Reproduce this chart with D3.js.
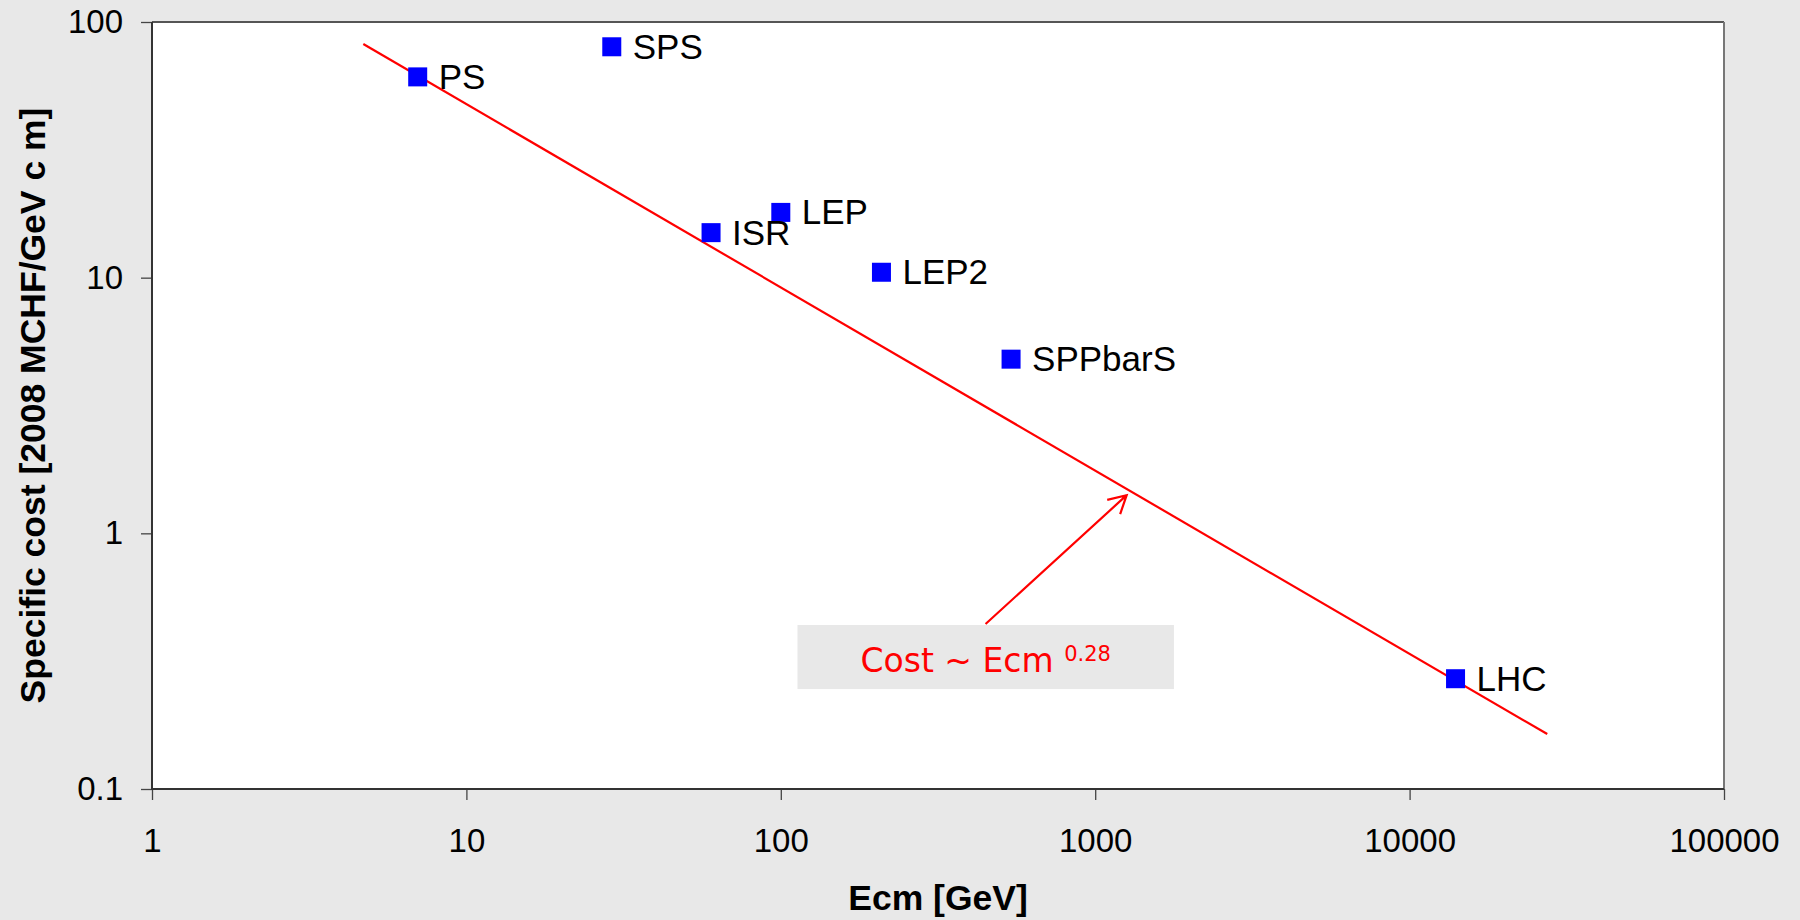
<!DOCTYPE html>
<html>
<head>
<meta charset="utf-8">
<script src="https://cdn.jsdelivr.net/npm/d3@7"></script>
<style>
  html, body { margin: 0; padding: 0; background: #e8e8e8; }
  svg { display: block; }
  text { font-family: "Liberation Sans", Arial, sans-serif; }
</style>
</head>
<body>
<div id="chart"></div>
<script>
/// Chart values
var machines = ["PS", "SPS", "ISR", "LEP", "LEP2", "SPPbarS", "LHC"];
var ecm      = [7, 29, 60, 100, 209, 540, 14000];       /// GeV
var cost     = [61, 80, 15, 18, 10.5, 4.8, 0.27];      /// 2008 MCHF/GeV c m

var fitEcm  = [4.7, 27400];   /// ends of the fitted power law
var fitCost = [82, 0.164];

var xTicks = [1, 10, 100, 1000, 10000, 100000];
var xTickLabels = ["1", "10", "100", "1000", "10000", "100000"];
var yTicks = [0.1, 1, 10, 100];
var yTickLabels = ["0.1", "1", "10", "100"];

var W = 1800, H = 920;
var m = {left: 152, right: 76, top: 22, bottom: 131};

var svg = d3.select("#chart").append("svg")
    .attr("width", W)
    .attr("height", H);

svg.append("rect")            /// grey page
    .attr("width", W).attr("height", H)
    .attr("fill", "#e8e8e8");

var x = d3.scaleLog().domain([1, 100000]).range([m.left, W - m.right]);
var y = d3.scaleLog().domain([0.1, 100]).range([H - m.bottom, m.top]);

/// plot area
svg.append("rect")
    .attr("x", x.range()[0]).attr("y", y.range()[1])
    .attr("width", x.range()[1] - x.range()[0])
    .attr("height", y.range()[0] - y.range()[1])
    .attr("fill", "#fff");

/// minor ticks 2..9 in every decade
function minors(dom){
    var out = [];
    for (var p = Math.log10(dom[0]); p < Math.log10(dom[1]); p++)
        for (var k = 2; k < 10; k++) out.push(k * Math.pow(10, p));
    return out;
}

var gx = svg.append("g").attr("transform", "translate(0," + y.range()[0] + ")");
gx.call(d3.axisBottom(x).tickValues(minors(x.domain())).tickSize(8).tickSizeOuter(0).tickFormat(""));
gx.call(d3.axisBottom(x).tickValues(xTicks).tickSize(11).tickSizeOuter(0).tickPadding(29)
        .tickFormat((d, i) => xTickLabels[i]));

var gy = svg.append("g").attr("transform", "translate(" + x.range()[0] + ",0)");
gy.call(d3.axisLeft(y).tickValues(minors(y.domain())).tickSize(8).tickSizeOuter(0).tickFormat(""));
gy.call(d3.axisLeft(y).tickValues(yTicks).tickSize(11).tickSizeOuter(0).tickPadding(18)
        .tickFormat((d, i) => yTickLabels[i]));

svg.selectAll(".tick line").attr("stroke", "#444").attr("stroke-width", 1.3);
svg.selectAll(".tick text")
    .attr("font-size", 33)
    .attr("font-family", "'Liberation Sans', Arial, sans-serif")
    .attr("fill", "#000");
svg.selectAll(".domain").remove();

/// frame: dark left/bottom/top, lighter right
var x0 = x.range()[0], x1 = x.range()[1], y0 = y.range()[0], y1 = y.range()[1];
svg.append("path").attr("d", "M" + x0 + "," + y1 + "H" + x1)
    .attr("stroke", "#555").attr("stroke-width", 2).attr("fill", "none");
svg.append("path").attr("d", "M" + x1 + "," + y1 + "V" + y0)
    .attr("stroke", "#777").attr("stroke-width", 2).attr("fill", "none");
svg.append("path").attr("d", "M" + x0 + "," + y1 + "V" + y0 + "H" + x1)
    .attr("stroke", "#333").attr("stroke-width", 2).attr("fill", "none");

/// fitted line
svg.append("path")
    .datum(d3.zip(fitEcm, fitCost))
    .attr("d", d3.line().x(d => x(d[0])).y(d => y(d[1])))
    .attr("stroke", "#ff0000").attr("stroke-width", 2.2).attr("fill", "none");

/// machines
var pts = d3.zip(ecm, cost, machines);
var side = 19;
svg.selectAll("rect.pt")
    .data(pts)
    .enter().append("rect")
    .attr("class", "pt")
    .attr("x", d => x(d[0]) - side / 2)
    .attr("y", d => y(d[1]) - side / 2)
    .attr("width", side).attr("height", side)
    .attr("fill", "#0000ff");

svg.selectAll("text.lab")
    .data(pts)
    .enter().append("text")
    .attr("class", "lab")
    .attr("x", d => x(d[0]) + 21)
    .attr("y", d => y(d[1]) + 12)
    .attr("font-size", 35)
    .attr("fill", "#000")
    .text(d => d[2]);

/// annotation box + arrow
var box = {x0: x(113), x1: x(1780), y0: y(0.438), y1: y(0.246)};
svg.append("rect")
    .attr("x", box.x0).attr("y", box.y0)
    .attr("width", box.x1 - box.x0).attr("height", box.y1 - box.y0)
    .attr("fill", "#e8e8e8");

var note = svg.append("text")
    .attr("x", (box.x0 + box.x1) / 2)
    .attr("y", (box.y0 + box.y1) / 2 + 15)
    .attr("text-anchor", "middle")
    .attr("fill", "#ff0000")
    .style("font-family", "'DejaVu Sans', Tahoma, Verdana, sans-serif")
    .attr("font-size", 33);
note.append("tspan").text("Cost ~ Ecm ");
note.append("tspan").attr("font-size", 21).attr("dy", -11).text("0.28");

var tail = [x(448), y(0.442)], tip = [x(1259), y(1.41)];
var ang = Math.atan2(tip[1] - tail[1], tip[0] - tail[0]);
var hl = 20, ha = 0.5;
var arrow = "M" + tail + "L" + tip
    + "M" + [tip[0] - hl * Math.cos(ang - ha), tip[1] - hl * Math.sin(ang - ha)] + "L" + tip
    + "L" + [tip[0] - hl * Math.cos(ang + ha), tip[1] - hl * Math.sin(ang + ha)];
svg.append("path").attr("d", arrow)
    .attr("stroke", "#ff0000").attr("stroke-width", 2.2).attr("fill", "none");

/// axis titles
svg.append("text")
    .attr("x", (x0 + x1) / 2).attr("y", 910)
    .attr("text-anchor", "middle")
    .attr("font-size", 35.5).attr("font-weight", "bold")
    .text("Ecm [GeV]");

svg.append("text")
    .attr("transform", "translate(45," + (y0 + y1) / 2 + ") rotate(-90)")
    .attr("text-anchor", "middle")
    .attr("font-size", 35.5).attr("font-weight", "bold")
    .text("Specific cost [2008 MCHF/GeV c m]");
</script>
</body>
</html>
